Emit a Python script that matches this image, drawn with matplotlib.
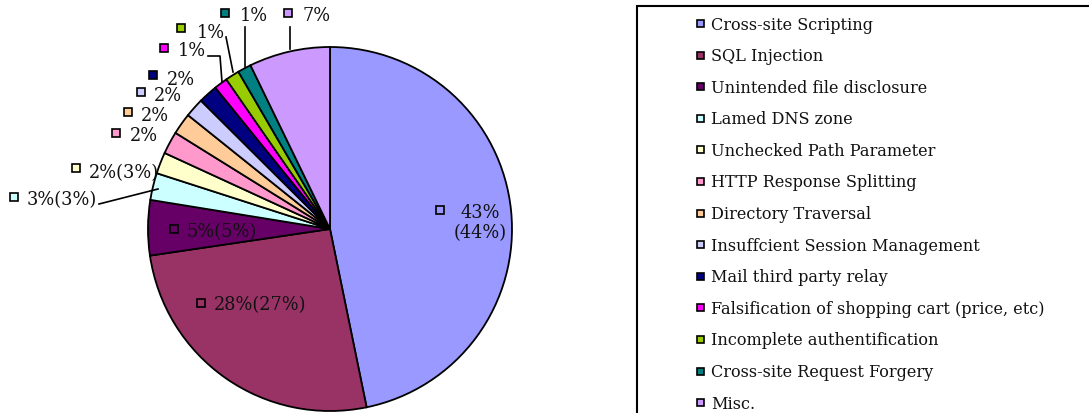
"""Pie chart of vulnerability categories with a boxed legend on the right."""

import matplotlib

matplotlib.use("Agg")
import matplotlib.pyplot as plt
from matplotlib.lines import Line2D
from matplotlib.patches import Rectangle

W, H = 1089, 414

CATEGORIES = [
    "Cross-site Scripting",
    "SQL Injection",
    "Unintended file disclosure",
    "Lamed DNS zone",
    "Unchecked Path Parameter",
    "HTTP Response Splitting",
    "Directory Traversal",
    "Insuffcient Session Management",
    "Mail third party relay",
    "Falsification of shopping cart (price, etc)",
    "Incomplete authentification",
    "Cross-site Request Forgery",
    "Misc.",
]
# slice shares as drawn
SHARES = [46.8, 25.9, 4.9, 2.4, 1.9, 2.0, 1.9, 1.7, 1.7, 1.2, 1.25, 1.2, 7.2]
LABELS = ["43%\n(44%)", "28%(27%)", "5%(5%)", "3%(3%)", "2%(3%)", "2%", "2%",
          "2%", "2%", "1%", "1%", "1%", "7%"]
COLORS = ["#9999FF", "#993366", "#660066", "#CCFFFF", "#FFFFCC", "#FF99CC",
          "#FFCC99", "#CCCCFF", "#000080", "#FF00FF", "#99CC00", "#008080",
          "#CC99FF"]

# label layout in pixels: (square x, square y, text x, text y, ha)
LABEL_POS = [
    (440, 211, 480, 223, "center"),
    (201, 304, 214, 305, "left"),
    (174, 230, 186, 232, "left"),
    (14, 198, 27, 200, "left"),
    (76, 169, 89, 173, "left"),
    (116, 134, 130, 136, "left"),
    (128, 113, 141, 116, "left"),
    (141, 93, 154, 96, "left"),
    (153, 76, 167, 80, "left"),
    (164, 49, 178, 51, "left"),
    (181, 29, 197, 33, "left"),
    (225, 14, 240, 16, "left"),
    (288, 14, 302, 16, "left"),
]
LEADERS = [
    [(99, 205), (158, 190)],
    [(208, 57), (220, 57), (222, 83)],
    [(226, 38), (233, 73)],
    [(245, 28), (245, 68)],
    [(290, 28), (290, 50)],
]


def fx(x):
    return x / W


def fy(y):
    return 1 - y / H


fig = plt.figure(figsize=(W / 100, H / 100), dpi=100)
FONT = "DejaVu Serif"

# pie
R, CX, CY = 182, 330, 230
ax = fig.add_axes([fx(CX - R), fy(CY + R), 2 * R / W, 2 * R / H])
ax.pie(SHARES, colors=COLORS, startangle=90, counterclock=False, radius=1,
       wedgeprops=dict(edgecolor="black", linewidth=1.3))
ax.set_xlim(-1, 1)
ax.set_ylim(-1, 1)
ax.axis("off")

# data labels
for (sx, sy, tx, ty, ha), text, color in zip(LABEL_POS, LABELS, COLORS):
    fig.patches.append(Rectangle((fx(sx - 4), fy(sy + 4)), 8 / W, 8 / H,
                                 transform=fig.transFigure, facecolor=color,
                                 edgecolor="black", linewidth=1.2))
    fig.text(fx(tx), fy(ty), text, ha=ha, va="center", multialignment="center",
             fontsize=12.8, family=FONT, color="#111111", linespacing=1.15)

for pts in LEADERS:
    xs = [fx(p[0]) for p in pts]
    ys = [fy(p[1]) for p in pts]
    fig.lines.append(Line2D(xs, ys, transform=fig.transFigure, color="black", lw=1.2))

# legend box
fig.patches.append(Rectangle((fx(637), fy(430)), (1100 - 637) / W, (430 - 7) / H,
                             transform=fig.transFigure, facecolor="none",
                             edgecolor="black", linewidth=1.5))
row0, step = 24, 31.6
for i, (name, color) in enumerate(zip(CATEGORIES, COLORS)):
    y = row0 + i * step
    fig.patches.append(Rectangle((fx(697), fy(y + 4)), 7 / W, 7 / H,
                                 transform=fig.transFigure, facecolor=color,
                                 edgecolor="black", linewidth=1.2))
    fig.text(fx(711), fy(y + 1), name, ha="left", va="center",
             fontsize=11.6, family=FONT, color="#111111")

fig.savefig("out.png", dpi=100)
